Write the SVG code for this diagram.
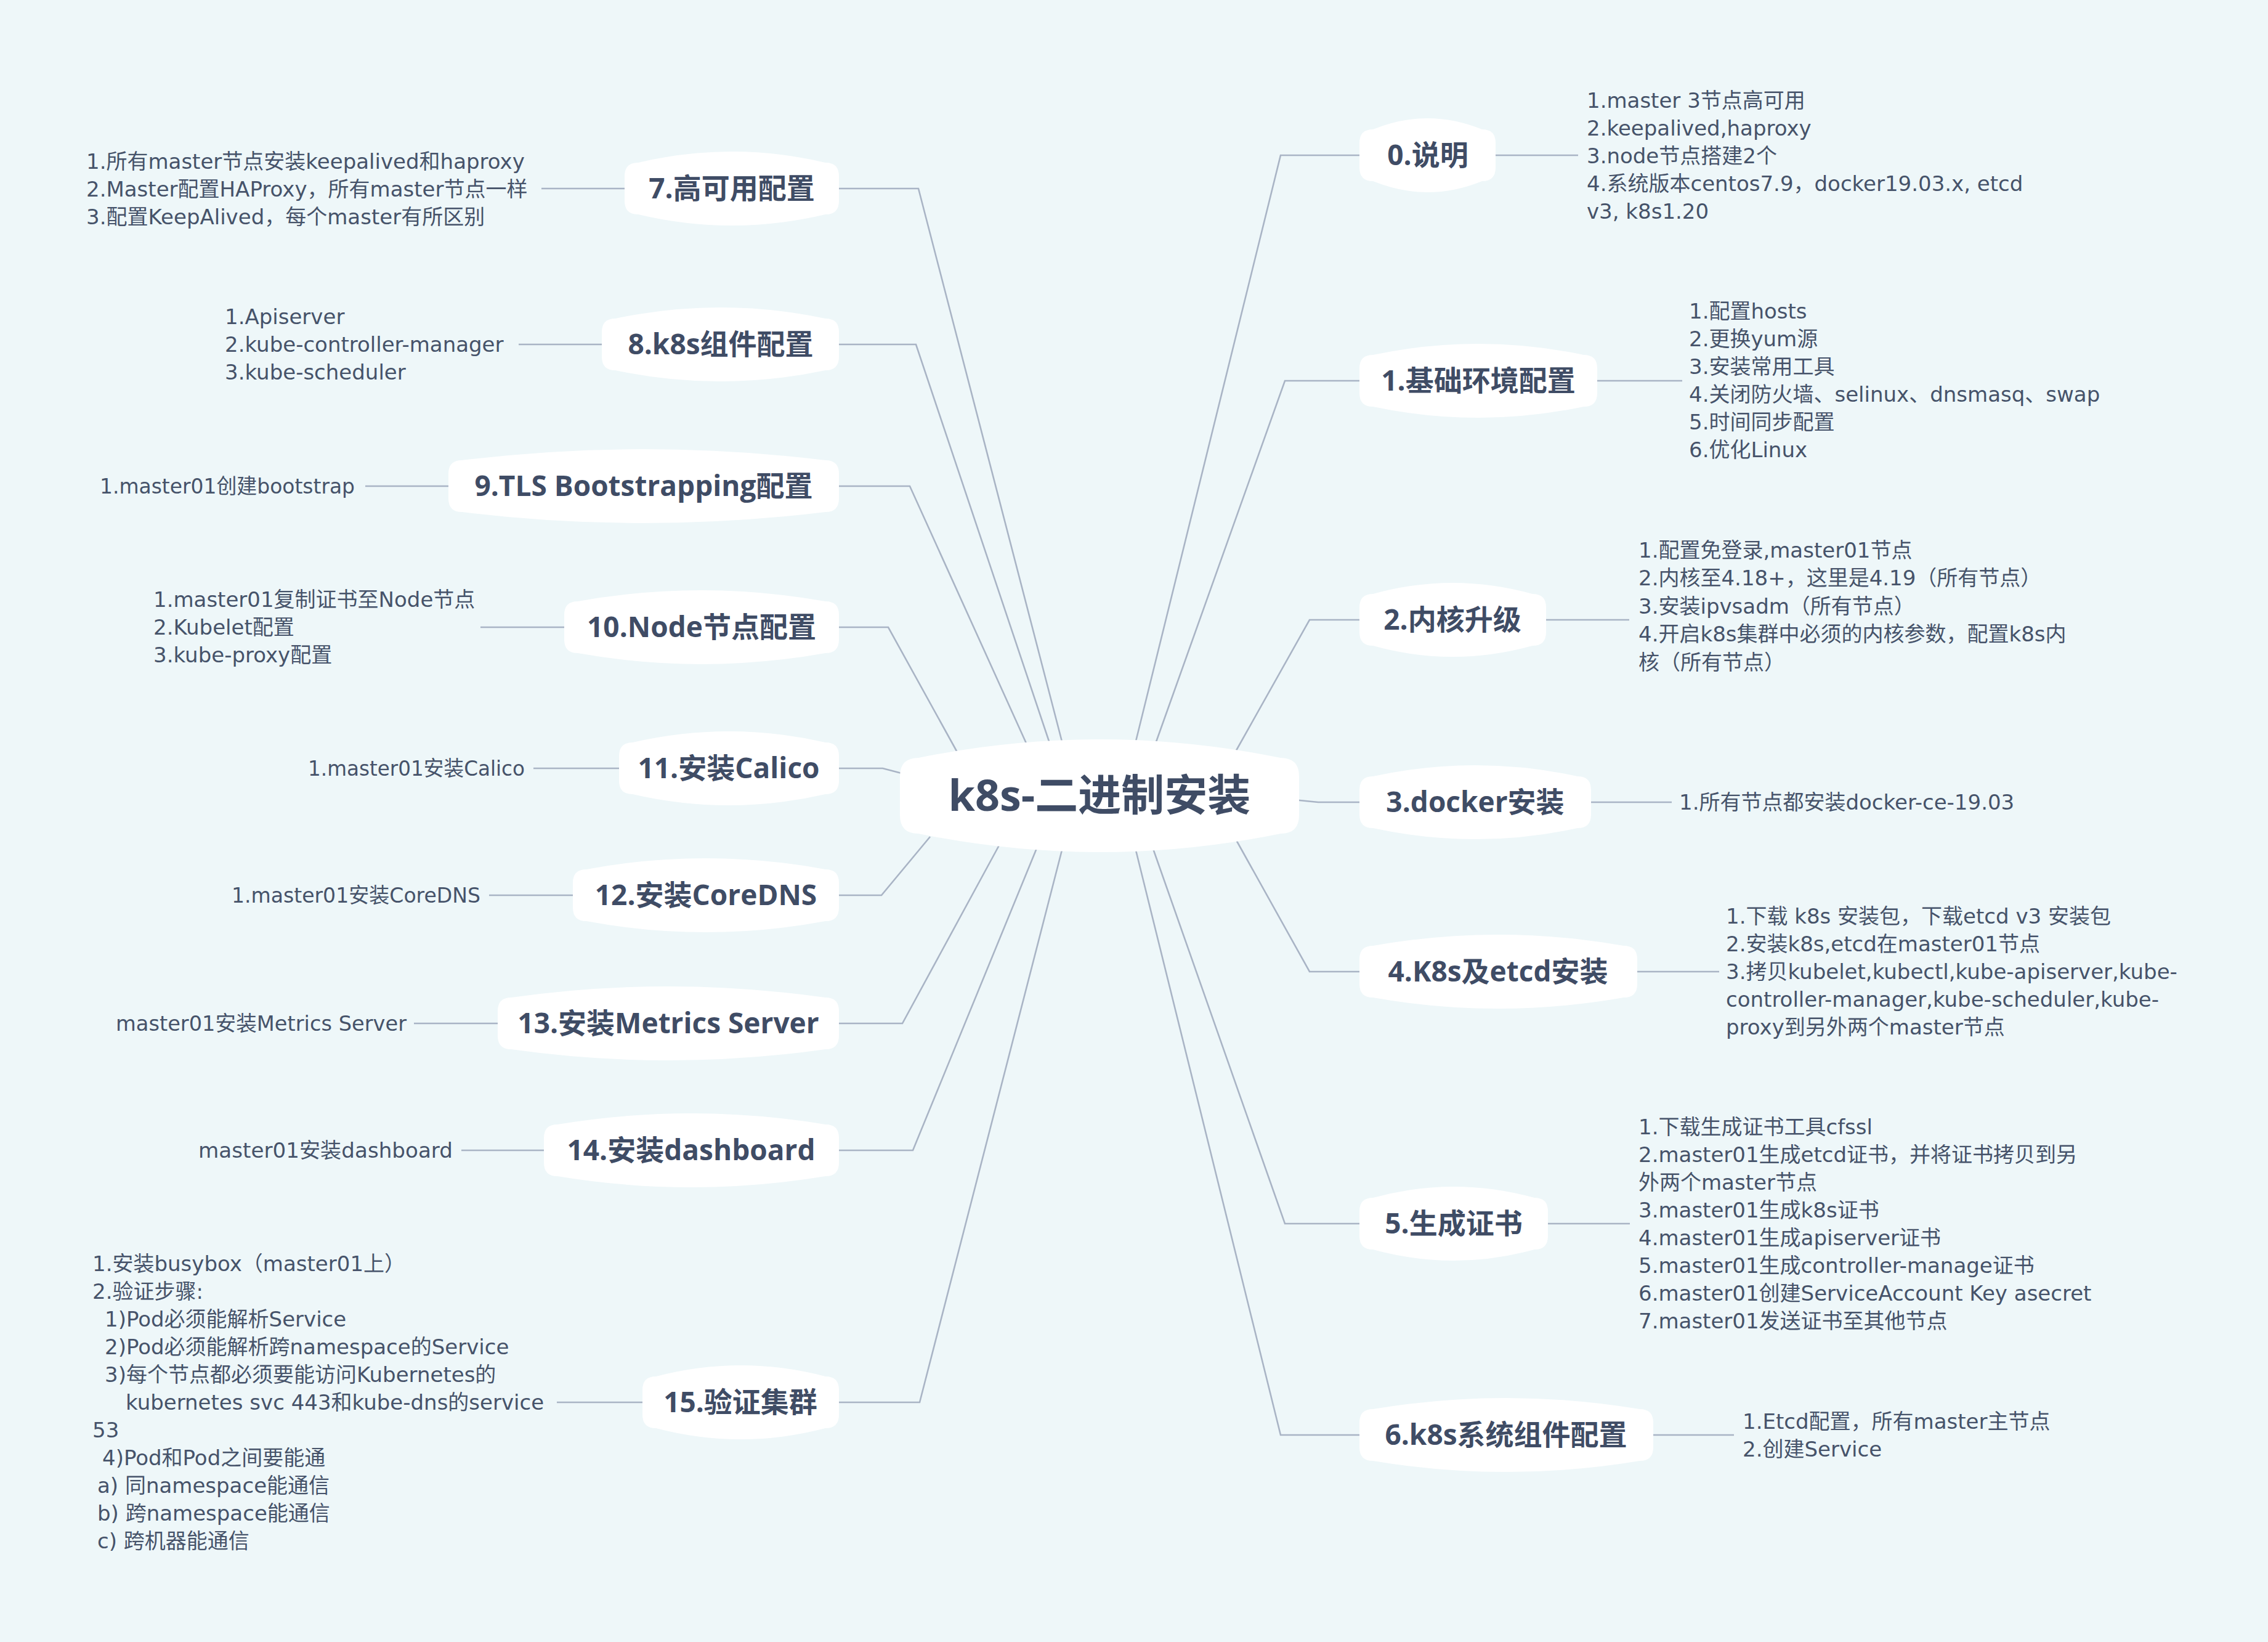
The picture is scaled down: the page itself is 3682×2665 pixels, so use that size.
<svg xmlns="http://www.w3.org/2000/svg" width="3682" height="2665" viewBox="0 0 3682 2665">
<style>
.bg{fill:#eef7f9}
.box{fill:#ffffff}
.conn{fill:none;stroke:#a9b4c5;stroke-width:2.6;stroke-linejoin:miter}
.nt{font-family:"Open Sans","Noto Sans CJK SC",sans-serif;font-weight:700;font-size:46px;fill:#3f4c65;text-anchor:middle}
.rt{font-family:"Open Sans","Noto Sans CJK SC",sans-serif;font-weight:700;font-size:70px;fill:#3f4c65;text-anchor:middle}
.ct{font-family:"DejaVu Sans","Noto Sans CJK SC",sans-serif;font-size:34px;fill:#46536a}
</style>
<rect class="bg" x="0" y="0" width="3682" height="2665"/>

<g id="connectors">
<polyline class="conn" points="1841,1215 2079,252 2207,252"/>
<polyline class="conn" points="1873,1215 2086,618 2207,618"/>
<polyline class="conn" points="2003,1225 2126,1006 2207,1006"/>
<polyline class="conn" points="2100,1298 2140,1302 2207,1302"/>
<polyline class="conn" points="2005,1360 2126,1577 2207,1577"/>
<polyline class="conn" points="1870,1372 2086,1986 2207,1986"/>
<polyline class="conn" points="1842,1372 2079,2329 2207,2329"/>
<polyline class="conn" points="1727,1215 1491,306 1362,306"/>
<polyline class="conn" points="1707,1215 1487,559 1362,559"/>
<polyline class="conn" points="1670,1215 1477,789 1362,789"/>
<polyline class="conn" points="1558,1228 1442,1018 1362,1018"/>
<polyline class="conn" points="1475,1258 1433,1247 1362,1247"/>
<polyline class="conn" points="1510,1358 1431,1453 1362,1453"/>
<polyline class="conn" points="1622,1372 1465,1661 1362,1661"/>
<polyline class="conn" points="1685,1372 1482,1867 1362,1867"/>
<polyline class="conn" points="1726,1372 1493,2276 1362,2276"/>
<line class="conn" x1="2428" y1="252" x2="2562" y2="252"/>
<line class="conn" x1="2593" y1="618" x2="2731" y2="618"/>
<line class="conn" x1="2510" y1="1006" x2="2645" y2="1006"/>
<line class="conn" x1="2583" y1="1302" x2="2714" y2="1302"/>
<line class="conn" x1="2658" y1="1577" x2="2791" y2="1577"/>
<line class="conn" x1="2513" y1="1986" x2="2646" y2="1986"/>
<line class="conn" x1="2684" y1="2329" x2="2815" y2="2329"/>
<line class="conn" x1="879" y1="306" x2="1014" y2="306"/>
<line class="conn" x1="842" y1="559" x2="977" y2="559"/>
<line class="conn" x1="593" y1="789" x2="728" y2="789"/>
<line class="conn" x1="780" y1="1018" x2="916" y2="1018"/>
<line class="conn" x1="866" y1="1247" x2="1005" y2="1247"/>
<line class="conn" x1="794" y1="1453" x2="930" y2="1453"/>
<line class="conn" x1="672" y1="1661" x2="808" y2="1661"/>
<line class="conn" x1="749" y1="1867" x2="883" y2="1867"/>
<line class="conn" x1="904" y1="2276" x2="1043" y2="2276"/>
</g>

<g id="root">
<path class="box" d="M1461,1260 Q1461,1230 1491,1230 Q1785,1170 2079,1230 Q2109,1230 2109,1260 L2109,1323 Q2109,1353 2079,1353 Q1785,1413 1491,1353 Q1461,1353 1461,1323 Z"/>
<text class="rt" x="1785" y="1316">k8s-二进制安装</text>
</g>

<g id="n0">
<path class="box" d="M2207,232 Q2207,210 2229,210 Q2318,174 2406,210 Q2428,210 2428,232 L2428,272 Q2428,294 2406,294 Q2318,330 2229,294 Q2207,294 2207,272 Z"/>
<text class="nt" x="2318" y="268">0.说明</text>
<text class="ct"><tspan x="2576" y="175">1.master 3节点高可用</tspan><tspan x="2576" y="220">2.keepalived,haproxy</tspan><tspan x="2576" y="265">3.node节点搭建2个</tspan><tspan x="2576" y="310">4.系统版本centos7.9，docker19.03.x, etcd</tspan><tspan x="2576" y="355">v3, k8s1.20</tspan></text>
</g>

<g id="n1">
<path class="box" d="M2207,598 Q2207,576 2229,576 Q2400,540 2571,576 Q2593,576 2593,598 L2593,638 Q2593,660 2571,660 Q2400,696 2229,660 Q2207,660 2207,638 Z"/>
<text class="nt" x="2400" y="634">1.基础环境配置</text>
<text class="ct"><tspan x="2742" y="517">1.配置hosts</tspan><tspan x="2742" y="562">2.更换yum源</tspan><tspan x="2742" y="607">3.安装常用工具</tspan><tspan x="2742" y="652">4.关闭防火墙、selinux、dnsmasq、swap</tspan><tspan x="2742" y="697">5.时间同步配置</tspan><tspan x="2742" y="742">6.优化Linux</tspan></text>
</g>

<g id="n2">
<path class="box" d="M2207,986 Q2207,964 2229,964 Q2358,928 2488,964 Q2510,964 2510,986 L2510,1026 Q2510,1048 2488,1048 Q2358,1084 2229,1048 Q2207,1048 2207,1026 Z"/>
<text class="nt" x="2358" y="1022">2.内核升级</text>
<text class="ct"><tspan x="2660" y="905">1.配置免登录,master01节点</tspan><tspan x="2660" y="950">2.内核至4.18+，这里是4.19（所有节点）</tspan><tspan x="2660" y="996">3.安装ipvsadm（所有节点）</tspan><tspan x="2660" y="1041">4.开启k8s集群中必须的内核参数，配置k8s内</tspan><tspan x="2660" y="1087">核（所有节点）</tspan></text>
</g>

<g id="n3">
<path class="box" d="M2207,1282 Q2207,1260 2229,1260 Q2395,1224 2561,1260 Q2583,1260 2583,1282 L2583,1322 Q2583,1344 2561,1344 Q2395,1380 2229,1344 Q2207,1344 2207,1322 Z"/>
<text class="nt" x="2395" y="1318">3.docker安装</text>
<text class="ct"><tspan x="2726" y="1314">1.所有节点都安装docker-ce-19.03</tspan></text>
</g>

<g id="n4">
<path class="box" d="M2207,1557 Q2207,1535 2229,1535 Q2432,1499 2636,1535 Q2658,1535 2658,1557 L2658,1597 Q2658,1619 2636,1619 Q2432,1655 2229,1619 Q2207,1619 2207,1597 Z"/>
<text class="nt" x="2432" y="1593">4.K8s及etcd安装</text>
<text class="ct"><tspan x="2802" y="1499">1.下载 k8s 安装包，下载etcd v3 安装包</tspan><tspan x="2802" y="1544">2.安装k8s,etcd在master01节点</tspan><tspan x="2802" y="1589">3.拷贝kubelet,kubectl,kube-apiserver,kube-</tspan><tspan x="2802" y="1634">controller-manager,kube-scheduler,kube-</tspan><tspan x="2802" y="1679">proxy到另外两个master节点</tspan></text>
</g>

<g id="n5">
<path class="box" d="M2207,1966 Q2207,1944 2229,1944 Q2360,1908 2491,1944 Q2513,1944 2513,1966 L2513,2006 Q2513,2028 2491,2028 Q2360,2064 2229,2028 Q2207,2028 2207,2006 Z"/>
<text class="nt" x="2360" y="2002">5.生成证书</text>
<text class="ct"><tspan x="2660" y="1841">1.下载生成证书工具cfssl</tspan><tspan x="2660" y="1886">2.master01生成etcd证书，并将证书拷贝到另</tspan><tspan x="2660" y="1931">外两个master节点</tspan><tspan x="2660" y="1976">3.master01生成k8s证书</tspan><tspan x="2660" y="2021">4.master01生成apiserver证书</tspan><tspan x="2660" y="2066">5.master01生成controller-manage证书</tspan><tspan x="2660" y="2111">6.master01创建ServiceAccount Key asecret</tspan><tspan x="2660" y="2156">7.master01发送证书至其他节点</tspan></text>
</g>

<g id="n6">
<path class="box" d="M2207,2309 Q2207,2287 2229,2287 Q2445,2251 2662,2287 Q2684,2287 2684,2309 L2684,2349 Q2684,2371 2662,2371 Q2445,2407 2229,2371 Q2207,2371 2207,2349 Z"/>
<text class="nt" x="2445" y="2345">6.k8s系统组件配置</text>
<text class="ct"><tspan x="2829" y="2319">1.Etcd配置，所有master主节点</tspan><tspan x="2829" y="2364">2.创建Service</tspan></text>
</g>

<g id="n7">
<path class="box" d="M1014,286 Q1014,264 1036,264 Q1188,228 1340,264 Q1362,264 1362,286 L1362,326 Q1362,348 1340,348 Q1188,384 1036,348 Q1014,348 1014,326 Z"/>
<text class="nt" x="1188" y="322">7.高可用配置</text>
<text class="ct"><tspan x="140" y="274">1.所有master节点安装keepalived和haproxy</tspan><tspan x="140" y="319">2.Master配置HAProxy，所有master节点一样</tspan><tspan x="140" y="364">3.配置KeepAlived，每个master有所区别</tspan></text>
</g>

<g id="n8">
<path class="box" d="M977,539 Q977,517 999,517 Q1170,481 1340,517 Q1362,517 1362,539 L1362,579 Q1362,601 1340,601 Q1170,637 999,601 Q977,601 977,579 Z"/>
<text class="nt" x="1170" y="575">8.k8s组件配置</text>
<text class="ct"><tspan x="365" y="526">1.Apiserver</tspan><tspan x="365" y="571">2.kube-controller-manager</tspan><tspan x="365" y="616">3.kube-scheduler</tspan></text>
</g>

<g id="n9">
<path class="box" d="M728,769 Q728,747 750,747 Q1045,711 1340,747 Q1362,747 1362,769 L1362,809 Q1362,831 1340,831 Q1045,867 750,831 Q728,831 728,809 Z"/>
<text class="nt" x="1045" y="805">9.TLS Bootstrapping配置</text>
<text class="ct" x="162" y="801" textLength="414" lengthAdjust="spacingAndGlyphs">1.master01创建bootstrap</text>
</g>

<g id="n10">
<path class="box" d="M916,998 Q916,976 938,976 Q1139,940 1340,976 Q1362,976 1362,998 L1362,1038 Q1362,1060 1340,1060 Q1139,1096 938,1060 Q916,1060 916,1038 Z"/>
<text class="nt" x="1139" y="1034">10.Node节点配置</text>
<text class="ct"><tspan x="249" y="985">1.master01复制证书至Node节点</tspan><tspan x="249" y="1030">2.Kubelet配置</tspan><tspan x="249" y="1075">3.kube-proxy配置</tspan></text>
</g>

<g id="n11">
<path class="box" d="M1005,1227 Q1005,1205 1027,1205 Q1183,1169 1340,1205 Q1362,1205 1362,1227 L1362,1267 Q1362,1289 1340,1289 Q1183,1325 1027,1289 Q1005,1289 1005,1267 Z"/>
<text class="nt" x="1183" y="1263">11.安装Calico</text>
<text class="ct" x="500" y="1259" textLength="352" lengthAdjust="spacingAndGlyphs">1.master01安装Calico</text>
</g>

<g id="n12">
<path class="box" d="M930,1433 Q930,1411 952,1411 Q1146,1375 1340,1411 Q1362,1411 1362,1433 L1362,1473 Q1362,1495 1340,1495 Q1146,1531 952,1495 Q930,1495 930,1473 Z"/>
<text class="nt" x="1146" y="1469">12.安装CoreDNS</text>
<text class="ct" x="376" y="1465" textLength="404" lengthAdjust="spacingAndGlyphs">1.master01安装CoreDNS</text>
</g>

<g id="n13">
<path class="box" d="M808,1641 Q808,1619 830,1619 Q1085,1583 1340,1619 Q1362,1619 1362,1641 L1362,1681 Q1362,1703 1340,1703 Q1085,1739 830,1703 Q808,1703 808,1681 Z"/>
<text class="nt" x="1085" y="1677">13.安装Metrics Server</text>
<text class="ct" x="188" y="1673" textLength="472" lengthAdjust="spacingAndGlyphs">master01安装Metrics Server</text>
</g>

<g id="n14">
<path class="box" d="M883,1847 Q883,1825 905,1825 Q1122,1789 1340,1825 Q1362,1825 1362,1847 L1362,1887 Q1362,1909 1340,1909 Q1122,1945 905,1909 Q883,1909 883,1887 Z"/>
<text class="nt" x="1122" y="1883">14.安装dashboard</text>
<text class="ct" x="322" y="1879" textLength="413" lengthAdjust="spacingAndGlyphs">master01安装dashboard</text>
</g>

<g id="n15">
<path class="box" d="M1043,2256 Q1043,2234 1065,2234 Q1202,2198 1340,2234 Q1362,2234 1362,2256 L1362,2296 Q1362,2318 1340,2318 Q1202,2354 1065,2318 Q1043,2318 1043,2296 Z"/>
<text class="nt" x="1202" y="2292">15.验证集群</text>
<text class="ct"><tspan x="150" y="2063">1.安装busybox（master01上）</tspan><tspan x="150" y="2108">2.验证步骤:</tspan><tspan x="170" y="2153">1)Pod必须能解析Service</tspan><tspan x="170" y="2198">2)Pod必须能解析跨namespace的Service</tspan><tspan x="170" y="2243">3)每个节点都必须要能访问Kubernetes的</tspan><tspan x="204" y="2288">kubernetes svc 443和kube-dns的service</tspan><tspan x="150" y="2333">53</tspan><tspan x="166" y="2378">4)Pod和Pod之间要能通</tspan><tspan x="158" y="2423">a) 同namespace能通信</tspan><tspan x="158" y="2468">b) 跨namespace能通信</tspan><tspan x="158" y="2513">c) 跨机器能通信</tspan></text>
</g>
</svg>
